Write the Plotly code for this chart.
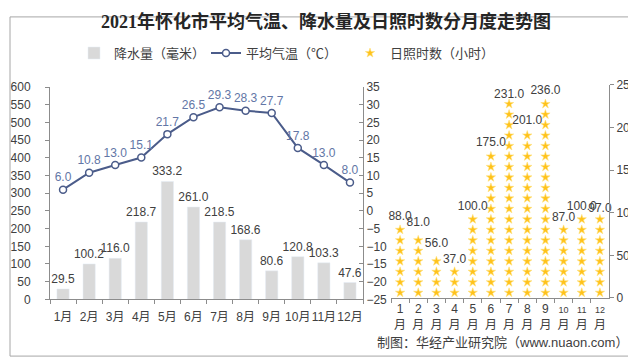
import math
import plotly.graph_objects as go

months = ["1月", "2月", "3月", "4月", "5月", "6月", "7月", "8月", "9月", "10月", "11月", "12月"]
precip = [29.5, 100.2, 116.0, 218.7, 333.2, 261.0, 218.5, 168.6, 80.6, 120.8, 103.3, 47.6]
temp = [6.0, 10.8, 13.0, 15.1, 21.7, 26.5, 29.3, 28.3, 27.7, 17.8, 13.0, 8.0]
sunshine = [88.0, 81.0, 56.0, 37.0, 100.0, 175.0, 231.0, 201.0, 236.0, 87.0, 100.0, 97.0]
sun_ticktext = ["1<br>月", "2<br>月", "3<br>月", "4<br>月", "5<br>月", "6<br>月", "7<br>月",
                "8<br>月", "9<br>月",
                "<span style='font-size:9px'>10</span><br>月",
                "<span style='font-size:9px'>11</span><br>月",
                "<span style='font-size:9px'>12</span><br>月"]

W, H = 636, 357
SANS = "Liberation Sans, Noto Sans CJK SC, sans-serif"
STEP = 12.3  # hours represented by one sun symbol

def px_x(p):
    return p / W

def px_y(p):
    return (H - p) / H

fig = go.Figure()

fig.add_trace(go.Bar(
    x=months, y=precip, name="降水量（毫米）", legend="legend",
    marker=dict(color="#D9D9D9"), width=0.47,
    text=[f"{v:.1f}" for v in precip], textposition="outside", constraintext="none",
    textfont=dict(size=12, color="#404040", family=SANS), cliponaxis=False,
    xaxis="x", yaxis="y"))

fig.add_trace(go.Scatter(
    x=months, y=temp, name="平均气温（℃）", legend="legend2",
    mode="lines+markers+text",
    line=dict(color="#4B5C8A", width=2),
    marker=dict(size=7, color="white", line=dict(color="#4B5C8A", width=1.5)),
    text=[f"{v:.1f}" for v in temp], textposition="top center",
    textfont=dict(size=12, color="#6276A6", family=SANS), cliponaxis=False,
    xaxis="x", yaxis="y2"))

# sun symbols stacked up to each sunshine value
sx, sy = [], []
for m, v in zip(months, sunshine):
    n = math.floor(v / STEP)
    if v / STEP - n > 0.6:
        n += 1
    for i in range(n):
        sx.append(m)
        sy.append((i + 0.5) * STEP)

fig.add_trace(go.Scatter(
    x=sx, y=sy, name="日照时数（小时）", legend="legend3", mode="markers",
    marker=dict(symbol="star", size=7, color="#FFC21A",
                line=dict(width=0.6, color="#FFE07A")),
    xaxis="x2", yaxis="y3"))

fig.add_trace(go.Scatter(
    x=months, y=sunshine, mode="text", showlegend=False,
    text=[f"{v:.1f}" for v in sunshine], textposition="top center",
    textfont=dict(size=12, color="#404040", family=SANS), cliponaxis=False,
    xaxis="x2", yaxis="y3"))

axis_common = dict(showgrid=False, zeroline=False, showline=True, linecolor="#8C8C8C",
                   linewidth=1, tickcolor="#8C8C8C", ticklen=4,
                   tickfont=dict(size=12, color="#404040", family=SANS))

fig.update_layout(
    width=W, height=H, autosize=False,
    margin=dict(l=0, r=0, t=0, b=0),
    paper_bgcolor="white", plot_bgcolor="rgba(0,0,0,0)",
    font=dict(family=SANS, color="#404040"),
    bargap=0.5,
    xaxis=dict(domain=[px_x(42), px_x(355)], anchor="y", type="category",
               range=[-0.5, 11.5],
               ticks="outside", tickson="boundaries", tickangle=0,
               ticklabelstandoff=6, **axis_common),
    yaxis=dict(domain=[px_y(296), px_y(75)], range=[0, 600], dtick=50,
               ticks="outside", anchor="x", ticklabelstandoff=12, **axis_common),
    yaxis2=dict(overlaying="y", side="right", anchor="x", range=[-25, 35], dtick=5,
                ticks="inside", **axis_common),
    xaxis2=dict(domain=[px_x(383), px_x(601)], anchor="y3", type="category",
                range=[-0.5, 11.5],
                ticks="outside", tickson="boundaries", tickangle=0,
                tickvals=months, ticktext=sun_ticktext, **axis_common),
    yaxis3=dict(domain=[px_y(294.5), px_y(72.7)], range=[0, 250], dtick=50,
                side="right", anchor="x2", ticks="outside", **axis_common),
    legend=dict(orientation="h", x=px_x(66), y=px_y(24), xanchor="left", yanchor="top",
                font=dict(size=13, color="#404040", family=SANS), bgcolor="rgba(0,0,0,0)"),
    legend2=dict(orientation="h", x=px_x(198), y=px_y(24), xanchor="left", yanchor="top",
                 font=dict(size=13, color="#404040", family=SANS), bgcolor="rgba(0,0,0,0)"),
    legend3=dict(orientation="h", x=px_x(342), y=px_y(24), xanchor="left", yanchor="top",
                 font=dict(size=13, color="#404040", family=SANS), bgcolor="rgba(0,0,0,0)"),
    title=dict(text="<b>2021年怀化市平均气温、降水量及日照时数分月度走势图</b>",
               x=0.5, xanchor="center", y=px_y(14), yanchor="middle",
               font=dict(size=18, color="#262626",
                         family="Liberation Serif, Noto Sans CJK SC, serif")),
    shapes=[dict(type="rect", xref="paper", yref="paper", x0=px_x(2), x1=px_x(634),
                 y0=px_y(355), y1=px_y(2), line=dict(color="#A6A6A6", width=1))],
    annotations=[
        dict(text="制图：华经产业研究院（www.nuaon.com）", xref="paper", yref="paper",
             x=px_x(622), y=px_y(341), xanchor="right", yanchor="middle", showarrow=False,
             font=dict(size=13, color="#404040", family=SANS)),
    ],
)

fig.write_html("out.html")
